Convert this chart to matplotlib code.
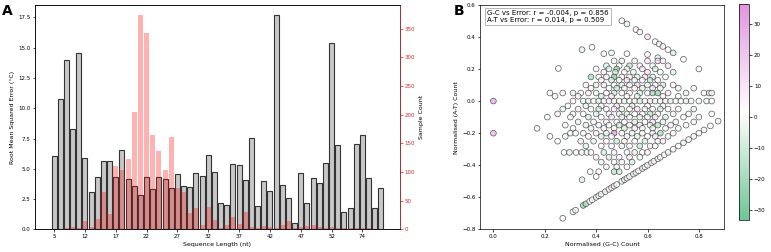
import numpy as np
import matplotlib.pyplot as plt
from matplotlib.colors import LinearSegmentedColormap

# panel A: per-length error and sample counts
seq_lengths = [5, 7, 8, 9, 10, 12, 13, 14, 15, 16, 17, 18, 19, 20, 21, 22, 23, 24,
               25, 26, 27, 28, 29, 30, 31, 32, 33, 34, 35, 36, 37, 38, 39, 40, 41,
               42, 43, 44, 45, 46, 47, 48, 49, 50, 51, 52, 54, 56, 60, 66, 74, 78,
               84, 96]
rmse = [6.05, 10.76, 13.95, 8.33, 14.56, 5.91, 3.07, 4.34, 5.63, 5.63,
        4.34, 6.57, 4.15, 3.60, 2.82, 4.34, 3.32, 4.33, 4.14, 3.40,
        4.56, 3.63, 3.50, 4.65, 4.42, 6.17, 4.73, 2.20, 2.03, 5.44,
        5.33, 4.07, 7.58, 1.92, 3.98, 3.21, 17.67, 3.65, 2.64, 0.53,
        4.67, 2.20, 4.26, 3.85, 5.52, 15.39, 6.95, 1.44, 1.77, 7.05,
        7.78, 4.23, 1.77, 3.42]
counts = [0, 1, 3, 5, 3, 14, 4, 19, 66, 27,
          111, 103, 123, 205, 373, 343, 164, 136, 104, 161,
          72, 66, 28, 37, 8, 39, 16, 3, 7, 21,
          10, 30, 4, 3, 6, 4, 3, 8, 14, 2,
          4, 6, 8, 4, 3, 4, 2, 3, 2, 3,
          3, 2, 1, 1]

# panel B: composition vs error
edge_gc = [0.0, 0.0, 0.345, 0.384, 0.43, 0.46, 0.52, 0.253, 0.60, 0.64]
edge_at = [0.0, -0.2, 0.32, 0.335, 0.295, 0.30, 0.295, 0.203, 0.29, 0.27]
edge_err = [22, 18, -3, 2, 5, -1, 3, 1, 4, -2]

upper_gc = [0.50, 0.52, 0.555, 0.57, 0.60, 0.63, 0.645, 0.66, 0.68, 0.70, 0.74, 0.80]
upper_at = [0.50, 0.48, 0.445, 0.43, 0.40, 0.37, 0.355, 0.34, 0.32, 0.30, 0.26, 0.20]
upper_err = [2, -3, 4, 6, 10, 3, -2, 5, 1, -6, 2, 1]

lower_gc = [0.27, 0.31, 0.32, 0.35, 0.36, 0.375, 0.385, 0.40, 0.41, 0.42,
            0.435, 0.45, 0.46, 0.47, 0.48, 0.50, 0.51, 0.52, 0.53, 0.545,
            0.555, 0.565, 0.58, 0.59, 0.60, 0.615, 0.625, 0.64, 0.65, 0.665,
            0.68, 0.70, 0.72, 0.74, 0.76, 0.78, 0.80, 0.82, 0.845, 0.875]
lower_at = [-0.73, -0.69, -0.68, -0.65, -0.64, -0.625, -0.615, -0.60, -0.59, -0.58,
            -0.565, -0.55, -0.54, -0.53, -0.52, -0.50, -0.49, -0.48, -0.47, -0.455,
            -0.445, -0.435, -0.42, -0.41, -0.40, -0.385, -0.375, -0.36, -0.35, -0.335,
            -0.32, -0.30, -0.28, -0.26, -0.24, -0.22, -0.20, -0.18, -0.155, -0.125]
lower_err = [3, 1, -2, -18, -12, 4, 2, -3, 5, 1, -4, 2, 6, -1, 3, 0, -5, 2, 4, -2,
             1, 3, -6, 2, 5, -1, 3, -4, 2, 1, -3, 4, 2, -2, 5, 1, 3, -1, 2, 4]

cloud_gc = [
    0.47, 0.50, 0.55, 0.60, 0.64, 0.66,
    0.44, 0.49, 0.53, 0.57, 0.62, 0.68,
    0.40, 0.45, 0.48, 0.52, 0.58, 0.63,
    0.43, 0.475, 0.51, 0.545, 0.60, 0.65, 0.70,
    0.38, 0.41, 0.44, 0.47, 0.50, 0.53, 0.56, 0.59, 0.62, 0.67,
    0.42, 0.46, 0.49, 0.52, 0.55, 0.58, 0.61, 0.64,
    0.36, 0.40, 0.43, 0.47, 0.50, 0.53, 0.56, 0.60, 0.63, 0.66, 0.70,
    0.38, 0.45, 0.48, 0.51, 0.55, 0.58, 0.62, 0.65, 0.72, 0.78,
    0.22, 0.27, 0.31, 0.34, 0.37, 0.40, 0.44, 0.47, 0.50, 0.53, 0.57, 0.60, 0.62, 0.64, 0.68, 0.75, 0.82, 0.84, 0.85,
    0.24, 0.33, 0.42, 0.46, 0.52, 0.56, 0.66, 0.72,
    0.31, 0.35, 0.37, 0.39, 0.41, 0.43, 0.45, 0.47, 0.49, 0.51, 0.53, 0.55, 0.57,
    0.59, 0.61, 0.63, 0.65, 0.67, 0.69, 0.71, 0.73, 0.75, 0.77, 0.80, 0.83, 0.85,
    0.29, 0.36, 0.42, 0.48, 0.54, 0.60, 0.66,
    0.27, 0.33, 0.38, 0.41, 0.44, 0.47, 0.50, 0.53, 0.56, 0.59, 0.62, 0.65, 0.68, 0.72, 0.78,
    0.25, 0.31, 0.35, 0.40, 0.45, 0.49, 0.52, 0.55, 0.58, 0.61, 0.64, 0.70, 0.76, 0.85,
    0.21, 0.30, 0.37, 0.42, 0.46, 0.50, 0.53, 0.57, 0.60, 0.63, 0.67, 0.74, 0.80,
    0.33, 0.39, 0.44, 0.48, 0.51, 0.55, 0.59, 0.62, 0.66, 0.71, 0.78,
    0.28, 0.36, 0.41, 0.45, 0.49, 0.53, 0.57, 0.61, 0.64, 0.69, 0.75,
    0.17, 0.31, 0.38, 0.43, 0.47, 0.51, 0.55, 0.58, 0.62, 0.67, 0.72,
    0.30, 0.32, 0.35, 0.40, 0.44, 0.47, 0.50, 0.54, 0.58, 0.62, 0.65, 0.70,
    0.22, 0.28, 0.37, 0.42, 0.46, 0.52, 0.56, 0.60, 0.63, 0.68,
    0.25, 0.34, 0.39, 0.44, 0.48, 0.51, 0.55, 0.59, 0.64, 0.66,
    0.36, 0.42, 0.46, 0.50, 0.53, 0.57, 0.61, 0.63,
    0.275, 0.296, 0.322, 0.344, 0.364, 0.38, 0.43, 0.47, 0.52, 0.55, 0.58, 0.60,
    0.40, 0.45, 0.49, 0.53, 0.57,
    0.42, 0.47, 0.50, 0.54,
    0.44, 0.48, 0.52,
    0.377, 0.41, 0.47, 0.49,
    0.40,
    0.345,
]
cloud_at = ([0.25] * 6 + [0.22] * 6 + [0.20] * 6 + [0.18] * 7 + [0.15] * 10
            + [0.13] * 8 + [0.10] * 11 + [0.08] * 10 + [0.05] * 19 + [0.03] * 8
            + [0.0] * 26 + [-0.03] * 7 + [-0.05] * 15 + [-0.08] * 14 + [-0.10] * 13
            + [-0.13] * 11 + [-0.15] * 11 + [-0.17] * 11 + [-0.20] * 12 + [-0.22] * 10
            + [-0.25] * 10 + [-0.28] * 8 + [-0.32] * 12 + [-0.35] * 5 + [-0.38] * 4
            + [-0.41] * 3 + [-0.44] * 4 + [-0.47] + [-0.49])
cloud_err = [
    3, -2, 5, 8, 12, 4,
    -4, 1, -12, 6, 2, 9,
    2, -3, -18, 4, 7, -6,
    5, -8, 3, -2, 10, 1, -4,
    -14, 2, 6, -20, 1, 4, -3, 8, -5, 2,
    3, -6, 2, 9, -1, 5, -9, 4,
    1, -5, 7, 2, -3, 6, 12, -2, 3, -7, 4,
    4, 0, -9, 5, 2, -4, 8, 1, -2, 3,
    2, 5, -3, 1, 6, -2, 4, -7, 3, 1, -5, 2, -16, -18, 6, -3, 2, -6, 4,
    -1, 3, -6, 8, 2, -4, 5, 1,
    3, -2, 5, 1, -4, 2, 6, -1, 3, -3, 0, 4, -5,
    2, 7, -2, 1, 5, -3, 2, 0, -4, 3, 1, -2, 2,
    4, -3, 2, 9, -5, 1, 3,
    -2, 5, 1, -8, 3, 6, -4, 2, 10, -1, 4, -6, 2, 5, -3,
    6, -1, 3, -5, 2, 7, -3, 1, 4, -9, 2, 5, -2, 3,
    1, 4, -6, 2, 8, -2, 5, -4, 1, 6, -7, 3, 2,
    -3, 2, 6, -1, 4, -5, 3, 9, -2, 1, 5,
    2, -4, 5, 1, -7, 3, 6, -2, -12, 4, 1,
    5, 1, -3, 4, 2, -6, 7, 1, -4, 3, -1,
    -2, 3, 1, 6, -5, 25, 2, -3, 4, 8, -15, 2,
    3, -1, 4, -6, 2, 5, -3, 1, 6, -2,
    1, 5, -2, 3, -8, 4, 2, -5, 1, 7,
    -4, 2, 6, -1, 3, -9, 4, 1,
    2, -3, 1, 4, -2, 3, -6, 5, 1, -4, 2, 6,
    3, -5, 2, 7, -1,
    -2, 4, 1, -6,
    5, -3, 2,
    1, 4, -10, -8,
    2,
    -3,
]

gc_norm = edge_gc + upper_gc + lower_gc + cloud_gc
at_norm = edge_at + upper_at + lower_at + cloud_at
err = edge_err + upper_err + lower_err + cloud_err

cmap = LinearSegmentedColormap.from_list('gw_p', ['#3cb371', '#ffffff', '#da70d6'])

fig = plt.figure(figsize=(7.71, 2.52), dpi=100)
ax = fig.add_axes([0.0454, 0.0893, 0.4734, 0.892])
ax2 = ax.twinx()

x = np.arange(len(seq_lengths))
ax.bar(x, rmse, width=0.8, color='#c8c8c8', edgecolor='#333333', linewidth=0.8)
ax2.bar(x, counts, width=0.8, color='red', alpha=0.3)
ax.set_xticks(x[::5])
ax.set_xticklabels([str(v) for v in seq_lengths[::5]])
ax.set_xlabel('Sequence Length (nt)', fontsize=4.5, labelpad=2)
ax.set_ylabel('Root Mean Squared Error (°C)', fontsize=4.5, labelpad=2)
ax2.set_ylabel('Sample Count', fontsize=4.5, labelpad=3)
ax.tick_params(labelsize=4, length=1.8, width=0.5, pad=1.5)
ax2.tick_params(labelsize=4, length=1.8, width=0.5, pad=1.5, colors='#d62728')
ax2.spines['right'].set_color('#d62728')
for s in list(ax.spines.values()) + list(ax2.spines.values()):
    s.set_linewidth(0.5)
fig.text(0.003, 0.985, 'A', fontsize=10, fontweight='bold', va='top')

bx = fig.add_axes([0.6226, 0.0893, 0.3165, 0.892])
sc = bx.scatter(gc_norm, at_norm, c=err, cmap=cmap, vmin=-33.1, vmax=36.5,
                s=17, edgecolors='#222222', linewidths=0.5, alpha=0.75)
bx.set_xlim(-0.052, 0.898)
bx.set_ylim(-0.8, 0.6)
bx.set_xlabel('Normalised (G-C) Count', fontsize=4.5, labelpad=2)
bx.set_ylabel('Normalised (A-T) Count', fontsize=4.5, labelpad=2)
bx.tick_params(labelsize=4, length=1.8, width=0.5, pad=1.5)
for s in bx.spines.values():
    s.set_linewidth(0.5)
bx.text(0.03, 0.975, 'G-C vs Error: r = -0.004, p = 0.856\nA-T vs Error: r = 0.014, p = 0.509',
        transform=bx.transAxes, fontsize=5, va='top', ha='left',
        bbox=dict(boxstyle='square,pad=0.3', facecolor='white', edgecolor='#aaaaaa', linewidth=0.6))
fig.text(0.588, 0.985, 'B', fontsize=10, fontweight='bold', va='top')

cax = fig.add_axes([0.9589, 0.127, 0.013, 0.857])
cb = fig.colorbar(sc, cax=cax)
cb.solids.set_alpha(0.75)
cb.set_ticks([-30, -20, -10, 0, 10, 20, 30])
cb.ax.tick_params(labelsize=4, length=1.8, width=0.5, pad=1.5)
cb.outline.set_linewidth(0.5)

fig.savefig('out.png', dpi=100)
